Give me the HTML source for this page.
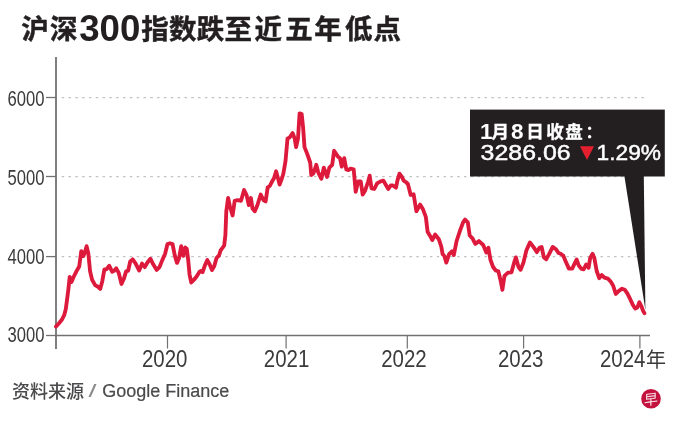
<!DOCTYPE html>
<html><head><meta charset="utf-8">
<style>
html,body{margin:0;padding:0;background:#fff;}
body{width:680px;height:428px;overflow:hidden;position:relative;}
svg{position:absolute;left:0;top:0;}
</style></head><body>
<svg width="680" height="428" viewBox="0 0 680 428">
<rect width="680" height="428" fill="#fff"/>
<text x="21.2" y="39.3" font-family="'Liberation Sans','Noto Sans CJK SC',sans-serif" font-size="27.5" font-weight="700" fill="#231f20" stroke="#231f20" stroke-width="0.45">沪</text>
<text x="49.9" y="39.3" font-family="'Liberation Sans','Noto Sans CJK SC',sans-serif" font-size="27.5" font-weight="700" fill="#231f20" stroke="#231f20" stroke-width="0.45">深</text>
<text x="79.2" y="40.5" font-family="'Liberation Sans',sans-serif" font-size="36" font-weight="700" fill="#231f20" textLength="61.2" lengthAdjust="spacingAndGlyphs">300</text>
<text x="141.2" y="39.3" font-family="'Liberation Sans','Noto Sans CJK SC',sans-serif" font-size="27.5" font-weight="700" fill="#231f20" stroke="#231f20" stroke-width="0.45">指</text>
<text x="169" y="39.3" font-family="'Liberation Sans','Noto Sans CJK SC',sans-serif" font-size="27.5" font-weight="700" fill="#231f20" stroke="#231f20" stroke-width="0.45">数</text>
<text x="196.8" y="39.3" font-family="'Liberation Sans','Noto Sans CJK SC',sans-serif" font-size="27.5" font-weight="700" fill="#231f20" stroke="#231f20" stroke-width="0.45">跌</text>
<text x="224.6" y="39.3" font-family="'Liberation Sans','Noto Sans CJK SC',sans-serif" font-size="27.5" font-weight="700" fill="#231f20" stroke="#231f20" stroke-width="0.45">至</text>
<text x="254.5" y="39.3" font-family="'Liberation Sans','Noto Sans CJK SC',sans-serif" font-size="27.5" font-weight="700" fill="#231f20" stroke="#231f20" stroke-width="0.45">近</text>
<text x="285.2" y="39.3" font-family="'Liberation Sans','Noto Sans CJK SC',sans-serif" font-size="27.5" font-weight="700" fill="#231f20" stroke="#231f20" stroke-width="0.45">五</text>
<text x="314.3" y="39.3" font-family="'Liberation Sans','Noto Sans CJK SC',sans-serif" font-size="27.5" font-weight="700" fill="#231f20" stroke="#231f20" stroke-width="0.45">年</text>
<text x="345.1" y="39.3" font-family="'Liberation Sans','Noto Sans CJK SC',sans-serif" font-size="27.5" font-weight="700" fill="#231f20" stroke="#231f20" stroke-width="0.45">低</text>
<text x="373.4" y="39.3" font-family="'Liberation Sans','Noto Sans CJK SC',sans-serif" font-size="27.5" font-weight="700" fill="#231f20" stroke="#231f20" stroke-width="0.45">点</text>
<g stroke="#c2c2c2" stroke-width="1.25" stroke-dasharray="2.5 4.32">
<line x1="61.65" y1="97.5" x2="645" y2="97.5"/>
<line x1="61.65" y1="176.5" x2="645" y2="176.5"/>
<line x1="61.65" y1="256.6" x2="645" y2="256.6"/>
</g>
<g stroke="#717173" fill="none">
<line x1="56" y1="57" x2="56" y2="349" stroke-width="1.8"/>
<line x1="55" y1="335.5" x2="650" y2="335.5" stroke-width="1.6"/>
<g stroke-width="1.3">
<line x1="46" y1="97.5" x2="56" y2="97.5"/>
<line x1="46" y1="176.5" x2="56" y2="176.5"/>
<line x1="46" y1="256.6" x2="56" y2="256.6"/>
<line x1="46" y1="335.5" x2="56" y2="335.5"/>
</g>
<g stroke-width="1.2">
<line x1="167.5" y1="335" x2="167.5" y2="348.5"/>
<line x1="286.1" y1="335" x2="286.1" y2="348.5"/>
<line x1="407.3" y1="335" x2="407.3" y2="348.5"/>
<line x1="523.6" y1="335" x2="523.6" y2="348.5"/>
<line x1="639.9" y1="335" x2="639.9" y2="348.5"/>
</g>
</g>
<text x="7.6" y="106.2" font-family="'Liberation Sans',sans-serif" font-size="22.5" font-weight="400" fill="#3b3b3d" textLength="37" lengthAdjust="spacingAndGlyphs">6000</text>
<text x="7.6" y="184.8" font-family="'Liberation Sans',sans-serif" font-size="22.5" font-weight="400" fill="#3b3b3d" textLength="37" lengthAdjust="spacingAndGlyphs">5000</text>
<text x="7.6" y="263.6" font-family="'Liberation Sans',sans-serif" font-size="22.5" font-weight="400" fill="#3b3b3d" textLength="37" lengthAdjust="spacingAndGlyphs">4000</text>
<text x="7.6" y="342.3" font-family="'Liberation Sans',sans-serif" font-size="22.5" font-weight="400" fill="#3b3b3d" textLength="37" lengthAdjust="spacingAndGlyphs">3000</text>
<text x="141.9" y="367" font-family="'Liberation Sans',sans-serif" font-size="23" font-weight="400" fill="#3b3b3d" textLength="45.5" lengthAdjust="spacingAndGlyphs">2020</text>
<text x="263.8" y="367" font-family="'Liberation Sans',sans-serif" font-size="23" font-weight="400" fill="#3b3b3d" textLength="45.5" lengthAdjust="spacingAndGlyphs">2021</text>
<text x="381.2" y="367" font-family="'Liberation Sans',sans-serif" font-size="23" font-weight="400" fill="#3b3b3d" textLength="45.5" lengthAdjust="spacingAndGlyphs">2022</text>
<text x="498" y="367" font-family="'Liberation Sans',sans-serif" font-size="23" font-weight="400" fill="#3b3b3d" textLength="45.5" lengthAdjust="spacingAndGlyphs">2023</text>
<text x="600" y="367" font-family="'Liberation Sans',sans-serif" font-size="23" font-weight="400" fill="#3b3b3d" textLength="45.5" lengthAdjust="spacingAndGlyphs">2024</text>
<text x="645.9" y="366.5" font-family="'Liberation Sans','Noto Sans CJK SC',sans-serif" font-size="20" font-weight="400" fill="#3b3b3d" >年</text>
<polyline points="56,326.6 59,323.2 61.8,319.8 64.2,315.2 65.8,309 67,300 68.3,290 69.7,277 71.5,281.9 73.6,277 76.4,271.4 79.2,266.5 81.3,251.1 83.4,256 85.1,251.8 86.6,246.2 88.3,253.2 90.1,271.4 92.1,279.8 95.3,285.4 98.1,286.8 100.2,288.9 102.3,281.2 104.4,269.3 106.5,269.3 109.3,265.8 112.1,271.7 114.2,270.7 116.3,268.3 118.7,272.8 121.5,284 124,278.4 126.1,271.4 128.2,270.7 130.2,261.5 132.7,259.4 135.7,263.6 139.2,270.6 142,263.6 144.8,267.1 147.6,262.2 150.4,258.7 153.2,264.3 156.7,269.9 159.5,267.1 162.3,260.1 165.1,253.8 167.5,244 170,243.3 172.5,244 174.9,255.9 177,262.9 179.1,258 181.2,246.1 183.3,255.9 185.4,247.5 186.8,248.9 188.2,260.1 189.6,274.8 191.3,282.5 193.8,280 196.6,276.5 199.4,272 201,271 202.6,272.2 204.9,265.4 207.3,260.1 209.6,264.2 212,270.1 214.3,266 216.6,257.8 219,255.5 220.7,250.2 222.5,247.9 224.2,245.5 225.4,235 226.3,211.3 228.1,198 229.8,205.7 232.6,215.5 234.7,200.8 237.5,200.1 241,200.8 244.1,190 246.6,195.2 248.8,205 250.9,198 252.5,208.5 254.8,211.3 257.2,205.7 260.7,194.5 263.5,200.1 265.6,201.5 267.7,187.4 269.8,186 271.9,181.8 274,178.3 276.1,171.3 277.8,177.6 279.6,184.6 281.7,179 283.3,174 285.5,161.1 287.5,138.7 289.8,137.3 292.6,133 294.7,138.7 296.1,147.1 298,138.7 299.6,113.4 301.7,114.1 303.1,127.4 304.5,147.1 307.3,154.1 310.2,162.5 311.3,175.1 313.5,173.2 316.3,164.8 318.2,172.3 321.4,178.8 323.8,167.6 327,177 329.4,167.6 332.2,164.8 334.1,150.8 337.8,156.4 340,158.2 341.7,166.6 344.2,158.2 346.3,169.4 348.4,170.1 350.5,168.7 353.7,169.4 355.7,191.8 358.2,181.3 360.7,181.3 362.7,194.6 365.2,190.4 368,182 369.7,175.7 371.5,188.3 374.3,189 377.1,183.4 380.6,181.3 383.4,180.6 386.2,185.5 388.3,189 390.7,185.5 392.9,185.5 396,187.6 397.4,180.6 399.5,173.6 401.6,176.4 403.7,180.6 405.8,182 407.9,184 410.7,195 413.6,194.3 416.4,211.2 420.1,204.6 423,209.3 425.8,216.8 427.6,231.7 430.4,236.4 432.3,240.1 435.1,234.5 438.8,239.2 441.3,246.7 442.6,254.2 444.4,256 446.3,262.6 449.1,254.2 451.9,251.4 453.8,255.1 456.6,241 460.3,229.9 463.1,222.4 465,219.6 467.8,222.4 469.7,235.5 472.5,238.3 475.3,243.9 479,241.1 483.2,245 486.3,252.6 488.4,247.8 490.5,260 493.1,267 495.8,270.5 498.4,271.4 500.7,281 502.4,289.8 504.5,275.8 508,272.6 511.5,272.3 514.1,262.7 515.9,257.4 518.5,267 520.6,269.7 523.4,262.7 526.4,250.4 529.9,242.5 533.4,246.9 536.9,252.1 539.5,247.8 541.6,246.9 543.9,257.4 546.2,259.2 549.2,253.9 552.7,246.9 556.2,249.5 558.5,253 560.7,253.8 563.2,255.5 565.6,261.2 568.9,268.6 572.2,268.6 574.6,263.6 576.6,259.5 578.7,265.3 581.2,268.6 583.6,269.4 586.1,264.5 588.6,267.7 590.2,257.9 592.6,253.8 594.3,257.9 596.7,271 599.2,278.2 601.8,275 604.4,277.7 607.9,278.7 610.5,281.3 613.1,285.5 615.8,294 618.9,290.8 622.1,288.7 624.7,289.7 627.3,293.4 630,298.7 632.6,304.4 635.2,308.6 637.3,307.6 639.4,302.3 641.5,306.5 643.1,310.8 644.4,313.2" fill="none" stroke="#dd1a3c" stroke-width="3.85" stroke-linejoin="round" stroke-linecap="round"/>
<rect x="470" y="109.6" width="194.8" height="66.9" fill="#231f20"/>
<polygon points="624.4,176 643.8,176 645.4,310" fill="#231f20"/>
<text x="480.0" y="139.4" font-family="'Liberation Sans',sans-serif" font-size="22.5" font-weight="700" fill="#fff" >1</text>
<text x="491.4" y="138.4" font-family="'Liberation Sans','Noto Sans CJK SC',sans-serif" font-size="17.5" font-weight="700" fill="#fff" stroke="#fff" stroke-width="0.35">月</text>
<text x="511.0" y="139.4" font-family="'Liberation Sans',sans-serif" font-size="22.5" font-weight="700" fill="#fff" >8</text>
<text x="526.2" y="138.4" font-family="'Liberation Sans','Noto Sans CJK SC',sans-serif" font-size="17.5" font-weight="700" fill="#fff" stroke="#fff" stroke-width="0.35">日</text>
<text x="546.2" y="138.4" font-family="'Liberation Sans','Noto Sans CJK SC',sans-serif" font-size="17.5" font-weight="700" fill="#fff" stroke="#fff" stroke-width="0.35">收</text>
<text x="565.3" y="138.4" font-family="'Liberation Sans','Noto Sans CJK SC',sans-serif" font-size="17.5" font-weight="700" fill="#fff" stroke="#fff" stroke-width="0.35">盘</text>
<text x="585.2" y="138.4" font-family="'Liberation Sans','Noto Sans CJK SC',sans-serif" font-size="17.5" font-weight="700" fill="#fff" >：</text>
<text x="480.6" y="160.3" font-family="'Liberation Sans',sans-serif" font-size="21.7" fill="#fff" stroke="#fff" stroke-width="0.45" textLength="90" lengthAdjust="spacingAndGlyphs">3286.06</text>
<polygon points="580,146.3 594,146.3 587,160" fill="#e5202e"/>
<text x="596.6" y="160.3" font-family="'Liberation Sans',sans-serif" font-size="21.7" fill="#fff" stroke="#fff" stroke-width="0.45" textLength="64.5" lengthAdjust="spacingAndGlyphs">1.29%</text>
<text x="12" y="397.5" font-family="'Liberation Sans','Noto Sans CJK SC',sans-serif" font-size="18" font-weight="500" fill="#4a4a4c">资料来源</text>
<text x="88.5" y="397" font-family="'Liberation Sans',sans-serif" font-size="18" fill="#8a8a8c" transform="translate(88.5 0) scale(1.6 1) translate(-88.5 0)">/</text>
<text x="102.3" y="397.2" font-family="'Liberation Sans',sans-serif" font-size="18" fill="#4a4a4c" stroke="#4a4a4c" stroke-width="0.2">Google Finance</text>
<circle cx="651" cy="398.8" r="9.8" fill="#c4123f"/>
<text x="651" y="404.6" text-anchor="middle" font-family="'Liberation Sans','Noto Sans CJK SC',sans-serif" font-weight="400" font-size="14" fill="#f8e8ec" transform="translate(651 399) rotate(-8) skewX(-8) translate(-651 -399)">早</text>
</svg>
</body></html>
